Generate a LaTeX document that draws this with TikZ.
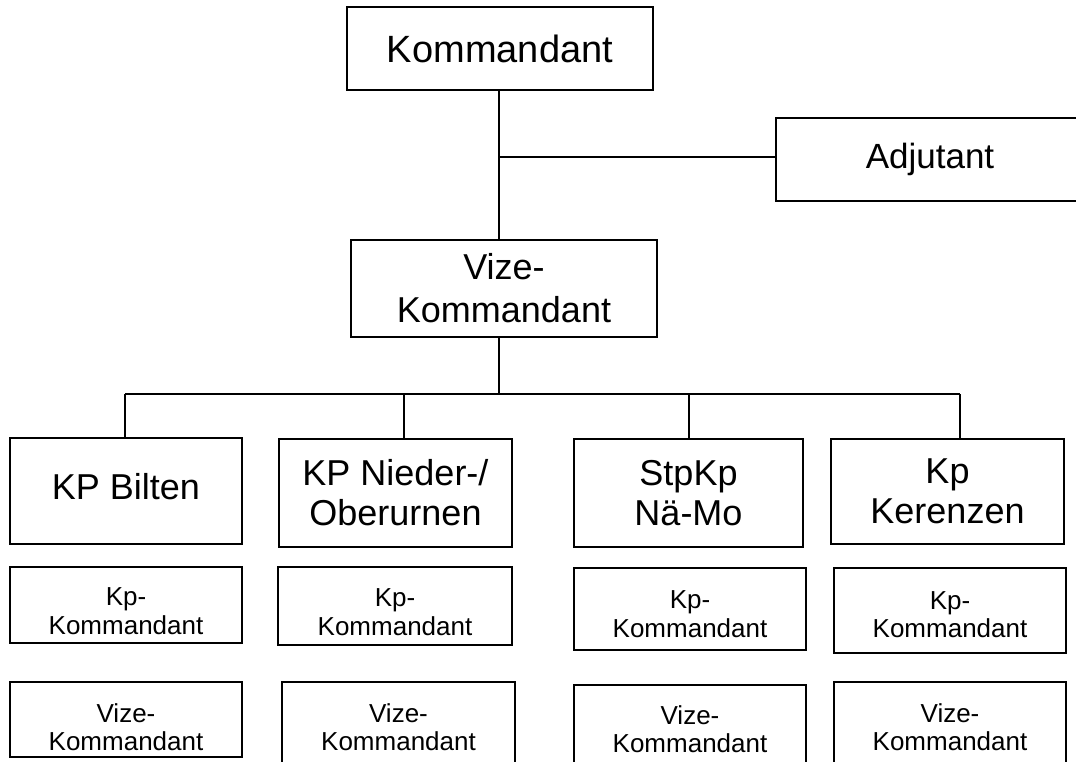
\documentclass[tikz,border=0pt]{standalone}
\usepackage{fontspec}
\setmainfont{Liberation Sans}
\begin{document}
\begin{tikzpicture}[x=1pt,y=-1pt,line width=1.3pt,
  box/.style={draw,rectangle,inner sep=0pt,align=center,anchor=center},
  bigbox/.style={box,font=\fontsize{36}{40}\selectfont},
  smallbox/.style={box},
  smalltext/.style={inner sep=0pt,align=center,font=\fontsize{26}{28.5}\selectfont},
  conn/.style={draw,line width=1.3pt}]
\useasboundingbox (0,0) rectangle (1076,762);
% top
\node[box,font=\fontsize{38}{44}\selectfont,minimum width=306pt,minimum height=83pt] (kom) at (500,48.5) {Kommandant};
\node[box,font=\fontsize{35}{42}\selectfont,minimum width=308pt,minimum height=83pt] (adj) at (930,159.5) {Adjutant};
\node[box,font=\fontsize{36}{43}\selectfont,minimum width=306pt,minimum height=97pt] (vize) at (504,288.5) {Vize-\\Kommandant};
% units
\node[bigbox,minimum width=232pt,minimum height=106pt] (b1) at (126,491) {};
\node[inner sep=0pt,font=\fontsize{36}{40}\selectfont] (b1t) at ([yshift=4pt]b1.center) {KP Bilten};
\node[bigbox,minimum width=233pt,minimum height=108pt] (b2) at (395.5,493) {KP Nieder-/\\Oberurnen};
\node[bigbox,minimum width=229pt,minimum height=108pt] (b3) at (688.5,493) {StpKp\\Nä-Mo};
\node[bigbox,minimum width=233pt,minimum height=105pt] (b4) at (947.5,491.5) {Kp\\Kerenzen};
% Kp-Kommandant row
\node[smallbox,minimum width=232pt,minimum height=76pt] (k1) at (126,605) {};
\node[smallbox,minimum width=234pt,minimum height=78pt] (k2) at (395,606) {};
\node[smallbox,minimum width=232pt,minimum height=82pt] (k3) at (690,609) {};
\node[smallbox,minimum width=232pt,minimum height=85pt] (k4) at (950,610.5) {};
\node[smalltext] (k1t) at ([yshift=-6pt]k1.center) {Kp-\\Kommandant};
\node[smalltext] (k2t) at ([yshift=-6pt]k2.center) {Kp-\\Kommandant};
\node[smalltext] (k3t) at ([yshift=-5pt]k3.center) {Kp-\\Kommandant};
\node[smalltext] (k4t) at ([yshift=-4pt]k4.center) {Kp-\\Kommandant};
% Vize row
\node[smallbox,minimum width=232pt,minimum height=75pt] (v1) at (126,719.5) {};
\node[smallbox,minimum width=233pt,minimum height=90pt] (v2) at (398.5,727) {};
\node[smallbox,minimum width=232pt,minimum height=88pt] (v3) at (690,729) {};
\node[smallbox,minimum width=232pt,minimum height=90pt] (v4) at (950,727) {};
\node[smalltext] (v1t) at (126,727) {Vize-\\Kommandant};
\node[smalltext] (v2t) at (398.5,727) {Vize-\\Kommandant};
\node[smalltext] (v3t) at (690,729) {Vize-\\Kommandant};
\node[smalltext] (v4t) at (950,727) {Vize-\\Kommandant};
% connectors
\coordinate (ja) at (499,157);
\coordinate (bus) at (499,394);
\coordinate (d1) at (125,394);
\coordinate (d2) at (404,394);
\coordinate (d3) at (689,394);
\coordinate (d4) at (960,394);
\draw[conn] (ja |- kom.south) -- (ja |- vize.north);
\draw[conn] (ja) -- (ja -| adj.west);
\draw[conn] (bus |- vize.south) -- (bus);
\draw[conn] (d1) -- (d4);
\draw[conn] (d1) -- (d1 |- b1.north);
\draw[conn] (d2) -- (d2 |- b2.north);
\draw[conn] (d3) -- (d3 |- b3.north);
\draw[conn] (d4) -- (d4 |- b4.north);
\end{tikzpicture}
\end{document}
